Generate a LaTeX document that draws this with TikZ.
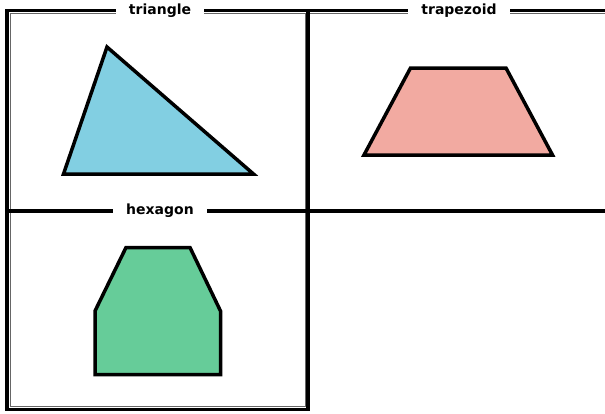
\documentclass[tikz,border=0pt]{standalone}
\usepackage{fontspec}
\newfontfamily\labelfont{DejaVu Sans}
\definecolor{trifill}{HTML}{82CFE2}
\definecolor{trapfill}{HTML}{F2AAA1}
\definecolor{hexfill}{HTML}{66CC99}
\tikzset{
	frameline/.style={line width=3.5pt}
}
\tikzset{
	innerline/.style={line width=1pt, black!60}
}
\tikzset{
	shapeline/.style={line width=3.5pt, miter limit=10}
}
\tikzset{
	celltitle/.style={font=\labelfont\bfseries\fontsize{14}{16}\selectfont, fill=white, inner xsep=13pt, inner ysep=1pt}
}

\begin{document}
\begin{tikzpicture}[x=1pt, y=-1pt]

	\useasboundingbox (0,0) rectangle (605,413);

	\begin{scope}
		% cell borders
		\draw[innerline] (10,13.5) rectangle (305,406.5);
		\draw[innerline] (308,13.5) -- (605,13.5);
		\draw[frameline] (7,10.5) rectangle (308,409.5);
		\draw[frameline] (308,10.5) -- (605,10.5);
		\draw[frameline] (7,211) -- (605,211);
	\end{scope}

	\begin{scope}
		\node[celltitle] (ttri) at (160,11) {triangle};
		\node[celltitle] (ttrap) at (459,11) {trapezoid};
		\node[celltitle] (thex) at (160,211) {hexagon};
	\end{scope}

	\begin{scope}
		\draw[shapeline, fill=trifill] (107,47) -- (63.5,174) -- (253.5,174) -- cycle;
		\draw[shapeline, fill=trapfill] (410.5,68) -- (506,68) -- (552.5,155) -- (364,155) -- cycle;
		\draw[shapeline, fill=hexfill] (126,247.5) -- (190,247.5) -- (220.5,311) -- (220.5,374.5)
			-- (95,374.5) -- (95,311) -- cycle;
	\end{scope}

\end{tikzpicture}
\end{document}
